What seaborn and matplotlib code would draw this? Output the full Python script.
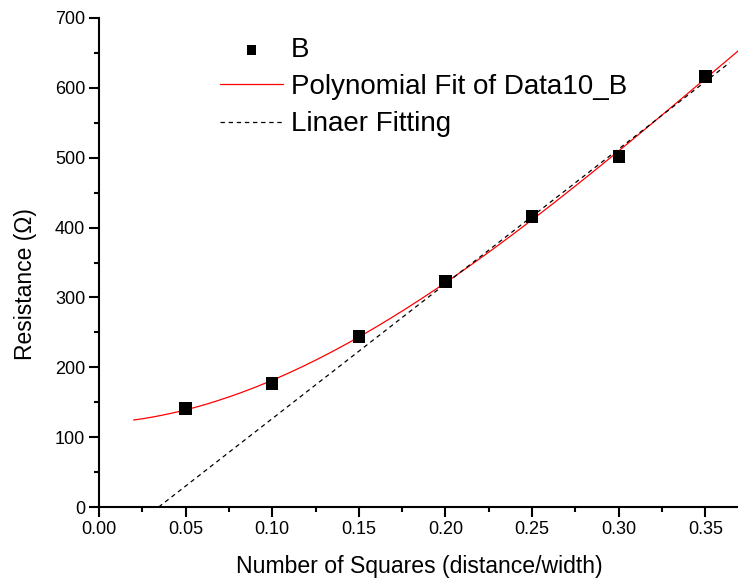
import numpy as np
import pandas as pd
import matplotlib
matplotlib.use("Agg")
import matplotlib.pyplot as plt
import seaborn as sns
from matplotlib.ticker import MultipleLocator

# Measured resistance vs. number of squares
squares = [0.05, 0.10, 0.15, 0.20, 0.25, 0.30, 0.35]
resistance = [141, 177, 244, 323, 416, 502, 616]

# Fit ranges
poly_degree = 3
poly_range = [0.02, 0.375]
lin_fit_points = 4          # linear fit uses the last four points
lin_range_end = 0.364

x_ticks = [0.00, 0.05, 0.10, 0.15, 0.20, 0.25, 0.30, 0.35]
y_ticks = [0, 100, 200, 300, 400, 500, 600, 700]

sns.set_style("ticks", {"axes.edgecolor": "black", "text.color": "black",
                        "axes.labelcolor": "black", "xtick.color": "black",
                        "ytick.color": "black"})
plt.rcParams["font.family"] = ["Liberation Sans", "DejaVu Sans"]

df = pd.DataFrame({"x": squares, "y": resistance})

# Polynomial fit over all points
pcoef = np.polyfit(df["x"], df["y"], poly_degree)
xp = np.linspace(poly_range[0], poly_range[1], 200)
poly_df = pd.DataFrame({"x": xp, "y": np.polyval(pcoef, xp)})

# Linear fit over the upper points
lcoef = np.polyfit(df["x"][-lin_fit_points:], df["y"][-lin_fit_points:], 1)
x0 = -lcoef[1] / lcoef[0]
xl = np.linspace(x0, lin_range_end, 50)
lin_df = pd.DataFrame({"x": xl, "y": np.polyval(lcoef, xl)})

fig = plt.figure(figsize=(7.38, 5.87), dpi=100)
ax = fig.add_axes([99 / 738, 1 - 507 / 587, 641 / 738, 489 / 587])

sns.scatterplot(data=df, x="x", y="y", ax=ax, marker="s", s=80,
                color="black", edgecolor="none", label="B", zorder=3)
sns.lineplot(data=poly_df, x="x", y="y", ax=ax, color="#ff0000",
             linewidth=0.9, label="Polynomial Fit of Data10_B", zorder=2)
sns.lineplot(data=lin_df, x="x", y="y", ax=ax, color="black",
             linewidth=0.9, linestyle=(0, (3.5, 3)), label="Linaer Fitting", zorder=2)

ax.set_xlim(0, 0.37)
ax.set_ylim(0, 700)
ax.set_xticks(x_ticks)
ax.set_xticklabels([f"{v:.2f}" for v in x_ticks])
ax.set_yticks(y_ticks)
ax.xaxis.set_minor_locator(MultipleLocator(0.025))
ax.yaxis.set_minor_locator(MultipleLocator(50))
ax.tick_params(which="major", direction="out", length=7, width=1.5, labelsize=13,
               pad=3, color="black", labelcolor="black")
ax.tick_params(which="minor", direction="out", length=3.8, width=1.5, color="black")

for side in ["top", "right"]:
    ax.spines[side].set_visible(False)
for side in ["left", "bottom"]:
    ax.spines[side].set_linewidth(1.5)
    ax.spines[side].set_color("black")
ax.spines["bottom"].set_clip_on(False)

ax.set_xlabel("Number of Squares (distance/width)", fontsize=16.6, labelpad=12, color="black")
ax.set_ylabel("Resistance (\u03a9)", fontsize=16.5, color="black")
ax.yaxis.set_label_coords(-0.097, 0.455)

leg = ax.legend(loc="upper left", bbox_to_anchor=(220 / 738, 1 - 37 / 587),
                bbox_transform=fig.transFigure, frameon=False, fontsize=20,
                handlelength=2.27, handletextpad=0.29, labelspacing=0.4,
                borderpad=0, borderaxespad=0, markerscale=0.8)
for t in leg.get_texts():
    t.set_color("black")

fig.savefig("out.png", dpi=100)
